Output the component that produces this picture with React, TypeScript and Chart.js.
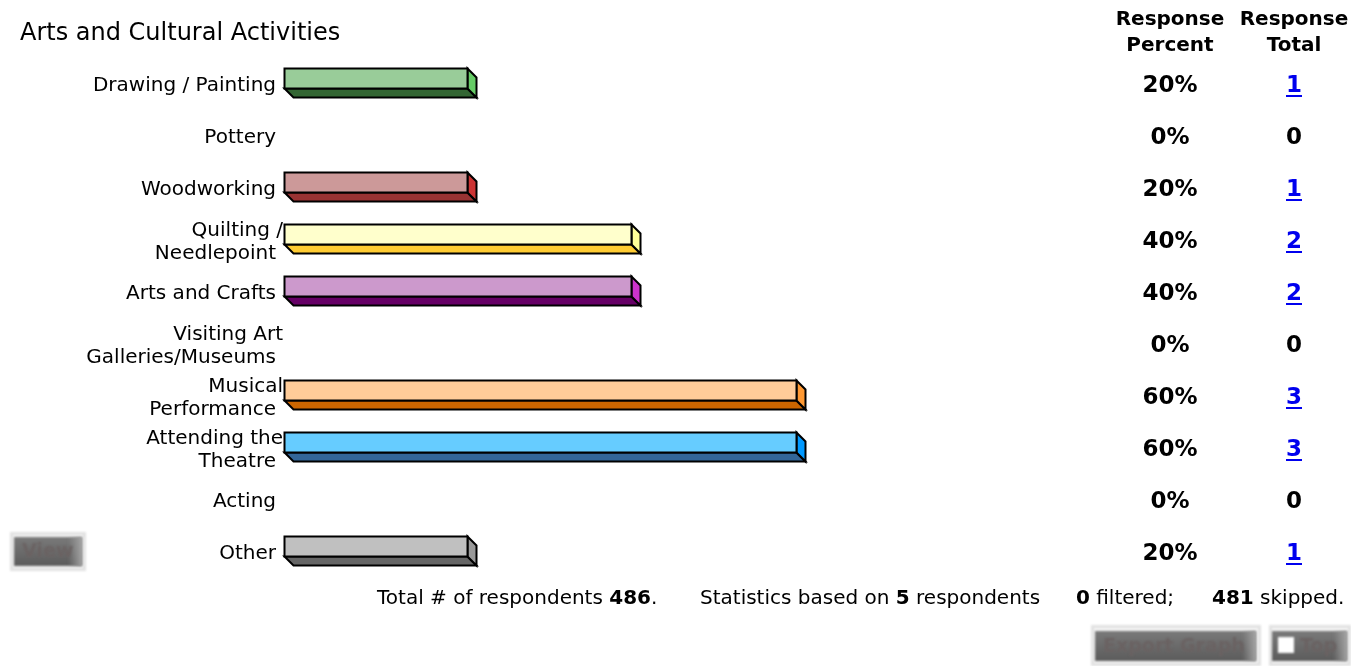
import { useEffect, useRef } from "react";
import { Chart, registerables } from "chart.js";

Chart.register(...registerables);

const FONT = '"DejaVu Sans", Verdana, sans-serif';

const categories: string[][] = [
  ["Drawing / Painting"],
  ["Pottery"],
  ["Woodworking"],
  ["Quilting /", "Needlepoint"],
  ["Arts and Crafts"],
  ["Visiting Art", "Galleries/Museums"],
  ["Musical", "Performance"],
  ["Attending the", "Theatre"],
  ["Acting"],
  ["Other"],
];
const responsePercent = [20, 0, 20, 40, 40, 0, 60, 60, 0, 20];
const responseTotal = [1, 0, 1, 2, 2, 0, 3, 3, 0, 1];

const totalRespondents = 486;
const statsRespondents = 5;
const filteredCount = 0;
const skippedCount = 481;

const chartTitle = "Arts and Cultural Activities";

// Palette per bar: front face, bottom face, end face
const frontColors = ["#99CC99", "#C0C0C0", "#CC9999", "#FFFFCC", "#CC99CC", "#C0C0C0", "#FFCC99", "#66CCFF", "#C0C0C0", "#C0C0C0"];
const bottomColors = ["#336633", "#666666", "#993333", "#FFCC33", "#660066", "#666666", "#CC6600", "#336699", "#666666", "#666666"];
const sideColors = ["#66CC66", "#999999", "#CC3333", "#FFFF99", "#CC33CC", "#999999", "#FF9933", "#0099FF", "#999999", "#999999"];

// Value axis starts slightly below zero so every bar has a short stub
const X_MIN = -2.2;
const X_MAX = 100;

const bars3d = {
  id: "bars3d",
  afterDatasetsDraw(chart: any) {
    const ctx: CanvasRenderingContext2D = chart.ctx;
    const xs = chart.scales.x;
    const meta = chart.getDatasetMeta(0);
    const x0 = Math.round(xs.getPixelForValue(X_MIN)) + 0.5;
    meta.data.forEach((el: any, i: number) => {
      const v = responsePercent[i];
      if (!v) return;
      const x1 = Math.round(xs.getPixelForValue(v)) + 0.5;
      const cy = Math.round(el.y);
      const top = cy - 16 + 0.5;
      const bot = cy + 4 + 0.5;
      const d = 9;
      ctx.save();
      ctx.lineWidth = 2;
      ctx.strokeStyle = "#000";
      ctx.lineJoin = "miter";
      // bottom face
      ctx.beginPath();
      ctx.moveTo(x0, bot);
      ctx.lineTo(x1, bot);
      ctx.lineTo(x1 + d, bot + d);
      ctx.lineTo(x0 + d, bot + d);
      ctx.closePath();
      ctx.fillStyle = bottomColors[i];
      ctx.fill();
      ctx.stroke();
      // end face
      ctx.beginPath();
      ctx.moveTo(x1, top);
      ctx.lineTo(x1 + d, top + d);
      ctx.lineTo(x1 + d, bot + d);
      ctx.lineTo(x1, bot);
      ctx.closePath();
      ctx.fillStyle = sideColors[i];
      ctx.fill();
      ctx.stroke();
      // front face
      ctx.beginPath();
      ctx.rect(x0, top, x1 - x0, bot - top);
      ctx.fillStyle = frontColors[i];
      ctx.fill();
      ctx.stroke();
      ctx.restore();
    });
  },
};

// Category labels, right aligned next to the bars; the first line of a
// wrapped label hangs a little further right.
const categoryLabels = {
  id: "categoryLabels",
  afterDraw(chart: any) {
    const ctx: CanvasRenderingContext2D = chart.ctx;
    const ys = chart.scales.y;
    const right = chart.chartArea.left - 8;
    const lh = 23;
    ctx.save();
    ctx.fillStyle = "#000";
    ctx.font = `20px ${FONT}`;
    ctx.textAlign = "right";
    ctx.textBaseline = "middle";
    categories.forEach((lines, i) => {
      const cy = ys.getPixelForValue(i) + 2;
      const y0 = cy - ((lines.length - 1) * lh) / 2;
      lines.forEach((s, k) => {
        const x = lines.length > 1 && k === 0 ? right + 7 : right;
        ctx.fillText(s, x, y0 + k * lh);
      });
    });
    ctx.restore();
  },
};

function drawButton(
  ctx: CanvasRenderingContext2D,
  ox: number, oy: number, ow: number, oh: number,
  ix: number, iy: number, iw: number, ih: number,
  label: string, box: boolean
) {
  ctx.save();
  ctx.filter = "blur(1.3px)";
  ctx.fillStyle = "#e2e2e2";
  ctx.fillRect(ox, oy, ow, oh);
  ctx.fillStyle = "#f6f6f6";
  ctx.fillRect(ox + 3, oy + 3, ow - 6, oh - 6);
  const g = ctx.createLinearGradient(0, iy, 0, iy + ih);
  g.addColorStop(0, "#7a7a7a");
  g.addColorStop(1, "#5c5c5c");
  ctx.fillStyle = g;
  ctx.fillRect(ix, iy, iw, ih);
  const gr = ctx.createLinearGradient(ix + iw - 14, 0, ix + iw, 0);
  gr.addColorStop(0, "rgba(160,160,160,0)");
  gr.addColorStop(1, "rgba(170,170,170,0.9)");
  ctx.fillStyle = gr;
  ctx.fillRect(ix + iw - 14, iy, 14, ih);
  let tx = ix + 8;
  if (box) {
    ctx.fillStyle = "#ffffff";
    ctx.fillRect(ix + 6, iy + 6, 16, 16);
    tx = ix + 28;
  }
  ctx.fillStyle = "#6a6262";
  ctx.font = `bold 19px ${FONT}`;
  ctx.textBaseline = "middle";
  ctx.textAlign = "left";
  ctx.fillText(label, tx, iy + ih / 2 + 1);
  ctx.restore();
}

const extras = {
  id: "extras",
  afterDraw(chart: any) {
    const ctx: CanvasRenderingContext2D = chart.ctx;
    const meta = chart.getDatasetMeta(0);
    ctx.save();
    ctx.fillStyle = "#000";
    ctx.textBaseline = "middle";

    // title
    ctx.font = `24px ${FONT}`;
    ctx.textAlign = "left";
    ctx.fillText(chartTitle, 20, 34);

    // column headers
    ctx.font = `bold 20px ${FONT}`;
    ctx.textAlign = "center";
    ctx.fillText("Response", 1170, 20);
    ctx.fillText("Percent", 1170, 46);
    ctx.fillText("Response", 1294, 20);
    ctx.fillText("Total", 1294, 46);

    // per-row values
    ctx.font = `bold 23px ${FONT}`;
    meta.data.forEach((el: any, i: number) => {
      const cy = el.y + 2;
      ctx.fillStyle = "#000";
      ctx.textAlign = "center";
      ctx.fillText(`${responsePercent[i]}%`, 1170, cy);
      const t = String(responseTotal[i]);
      if (responseTotal[i] > 0) {
        ctx.fillStyle = "#0000EE";
        ctx.fillText(t, 1294, cy);
        const w = ctx.measureText(t).width;
        ctx.fillRect(1294 - w / 2, cy + 9, w, 2);
      } else {
        ctx.fillText(t, 1294, cy);
      }
    });

    // footer line with bold counts
    const fy = 599;
    const seg = (parts: [string, boolean][], x: number) => {
      ctx.textAlign = "left";
      ctx.fillStyle = "#000";
      for (const [s, b] of parts) {
        ctx.font = `${b ? "bold " : ""}20px ${FONT}`;
        ctx.fillText(s, x, fy);
        x += ctx.measureText(s).width;
      }
    };
    seg([["Total # of respondents ", false], [String(totalRespondents), true], [".", false]], 377);
    seg([["Statistics based on ", false], [String(statsRespondents), true], [" respondents", false]], 700);
    seg([[String(filteredCount), true], [" filtered;", false]], 1076);
    seg([[String(skippedCount), true], [" skipped.", false]], 1212);
    ctx.restore();

    drawButton(ctx, 10, 532, 76, 39, 14, 537, 68, 29, "View", false);
    drawButton(ctx, 1091, 625, 170, 41, 1095, 631, 161, 30, "Export Graph", false);
    drawButton(ctx, 1269, 625, 82, 41, 1272, 631, 75, 30, "Top", true);
  },
};

export default function App() {
  const ref = useRef<HTMLCanvasElement | null>(null);
  useEffect(() => {
    if (!ref.current) return;
    const chart = new Chart(ref.current, {
      type: "bar",
      data: {
        labels: categories.map((c) => c.join(" ")),
        datasets: [
          {
            data: responsePercent,
            backgroundColor: "rgba(0,0,0,0)",
            borderWidth: 0,
            barThickness: 20,
            base: X_MIN,
          } as any,
        ],
      },
      options: {
        indexAxis: "y",
        responsive: false,
        animation: false,
        devicePixelRatio: 1,
        layout: { padding: { left: 0, top: 58, bottom: 88, right: 1351 - 1125 } },
        plugins: {
          legend: { display: false },
          tooltip: { enabled: false },
          title: { display: false },
        },
        scales: {
          x: { display: false, min: X_MIN, max: X_MAX },
          y: {
            grid: { display: false, drawTicks: false },
            border: { display: false },
            ticks: { display: false },
            afterFit: (s: any) => {
              s.width = 284;
            },
          },
        },
      },
      plugins: [bars3d, categoryLabels, extras],
    });
    return () => chart.destroy();
  }, []);
  return (
    <div style={{ position: "absolute", left: 0, top: 0, width: 1351, height: 666, background: "#fff" }}>
      <canvas ref={ref} width={1351} height={666} style={{ display: "block" }} />
    </div>
  );
}
